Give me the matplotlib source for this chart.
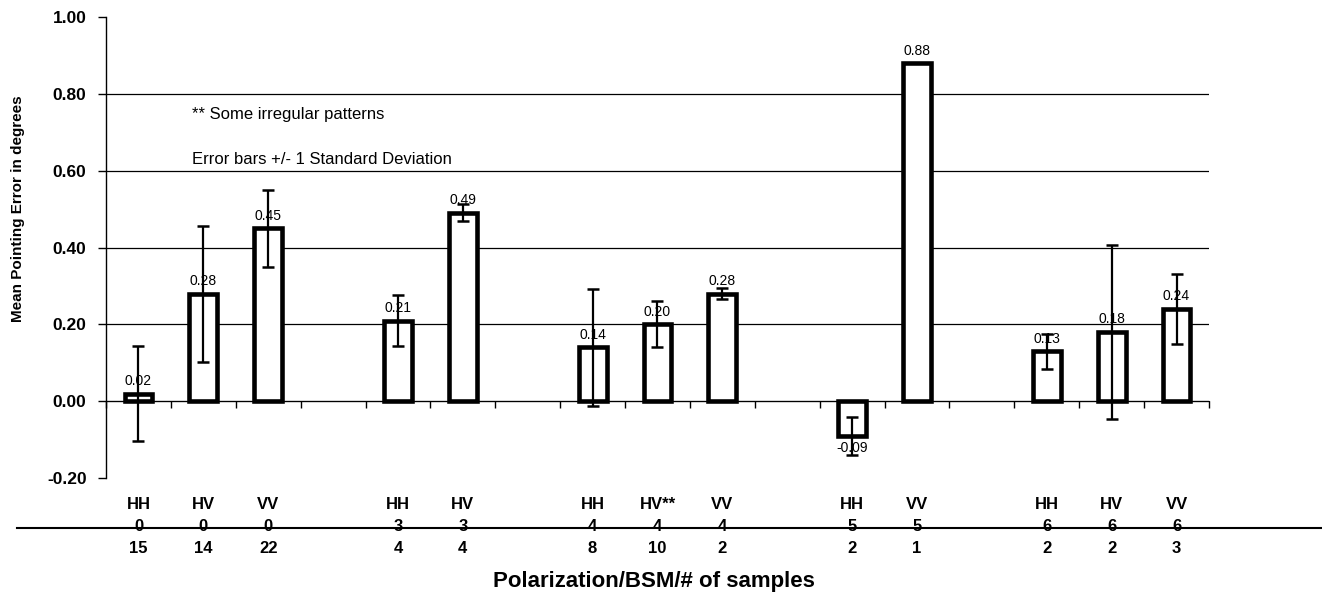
import matplotlib
matplotlib.use('Agg')
import matplotlib.pyplot as plt
from matplotlib.lines import Line2D
import numpy as np

plt.rcParams['font.family'] = ['Liberation Sans', 'DejaVu Sans']

# categorias (slots vazios separam os grupos de BSM)
polarization = ['HH', 'HV', 'VV', '', 'HH', 'HV', '', 'HH', 'HV**', 'VV', '', 'HH', 'VV', '', 'HH', 'HV', 'VV']
bsm = ['0', '0', '0', '', '3', '3', '', '4', '4', '4', '', '5', '5', '', '6', '6', '6']
samples = ['15', '14', '22', '', '4', '4', '', '8', '10', '2', '', '2', '1', '', '2', '2', '3']

# erro médio e desvio padrão (None = sem barra)
mean_error = [0.02, 0.28, 0.45, None, 0.21, 0.49, None, 0.14, 0.20, 0.28, None, -0.09, 0.88, None, 0.13, 0.18, 0.24]
std_dev = [0.124, 0.177, 0.10, None, 0.067, 0.022, None, 0.152, 0.06, 0.014, None, 0.05, None, None, 0.045, 0.227, 0.092]

notes = ['** Some irregular patterns', 'Error bars +/- 1 Standard Deviation']

fig = plt.figure(figsize=(13.22, 5.95), dpi=100)
ax = fig.add_axes([0.0802, 0.1966, 0.8343, 0.7748])

x = np.arange(len(polarization))
bar_x = [i for i in x if mean_error[i] is not None]
bar_y = [mean_error[i] for i in bar_x]
ax.bar(bar_x, bar_y, width=0.43, facecolor='white', edgecolor='black', linewidth=3.3, zorder=3)

err_x = [i for i in bar_x if std_dev[i] is not None]
ax.errorbar(err_x, [mean_error[i] for i in err_x], yerr=[std_dev[i] for i in err_x],
            fmt='none', ecolor='black', elinewidth=1.6, capsize=4.2, capthick=1.8, zorder=4)

for i, v in zip(bar_x, bar_y):
    if v >= 0:
        ax.annotate(f'{v:.2f}', (i, v), xytext=(0, 4), textcoords='offset points',
                    ha='center', va='bottom', fontsize=10, zorder=5)
    else:
        ax.annotate(f'{v:.2f}', (i, v), xytext=(0, -4), textcoords='offset points',
                    ha='center', va='top', fontsize=10, zorder=5)

ax.set_xlim(-0.5, len(polarization) - 0.5)
ax.set_ylim(-0.2, 1.0)
ax.set_yticks(np.arange(-0.2, 1.01, 0.2))
ax.set_yticklabels([f'{t:.2f}' for t in np.arange(-0.2, 1.01, 0.2)], fontsize=12.5, fontweight='bold')
ax.tick_params(axis='y', length=6, width=1, pad=8)

ax.grid(axis='y', color='black', linewidth=0.9, zorder=0)
gl = ax.yaxis.get_gridlines()
gl[0].set_visible(False)
gl[-1].set_visible(False)

ax.spines['top'].set_visible(False)
ax.spines['right'].set_visible(False)
ax.spines['bottom'].set_position(('data', 0))
ax.spines['left'].set_linewidth(1)
ax.set_xticks([])
ax.set_xticks(np.arange(-0.5, len(polarization)), minor=True)
ax.tick_params(axis='x', which='minor', length=5, width=1, direction='out', labelbottom=False)

tr = ax.get_xaxis_transform()
for i in x:
    ax.text(i, -0.058, polarization[i], transform=tr, ha='center', va='center',
            fontsize=12, fontweight='bold', clip_on=False)
    ax.text(i, -0.106, bsm[i], transform=tr, ha='center', va='center',
            fontsize=12, fontweight='bold', clip_on=False)
    ax.text(i, -0.152, samples[i], transform=tr, ha='center', va='center',
            fontsize=12, fontweight='bold', clip_on=False)

fig.add_artist(Line2D([0.013, 1.0], [0.1126, 0.1126], color='black', linewidth=1.5))

fig.text(0.495, 0.022, 'Polarization/BSM/# of samples', ha='center', va='center',
         fontsize=16, fontweight='bold')
fig.text(0.0135, 0.65, 'Mean Pointing Error in degrees', rotation=90, ha='center', va='center',
         fontsize=11, fontweight='bold')

ax.text(0.82, 0.745, notes[0], ha='left', va='center', fontsize=12)
ax.text(0.82, 0.63, notes[1], ha='left', va='center', fontsize=12)

fig.savefig('out.png', dpi=100)
